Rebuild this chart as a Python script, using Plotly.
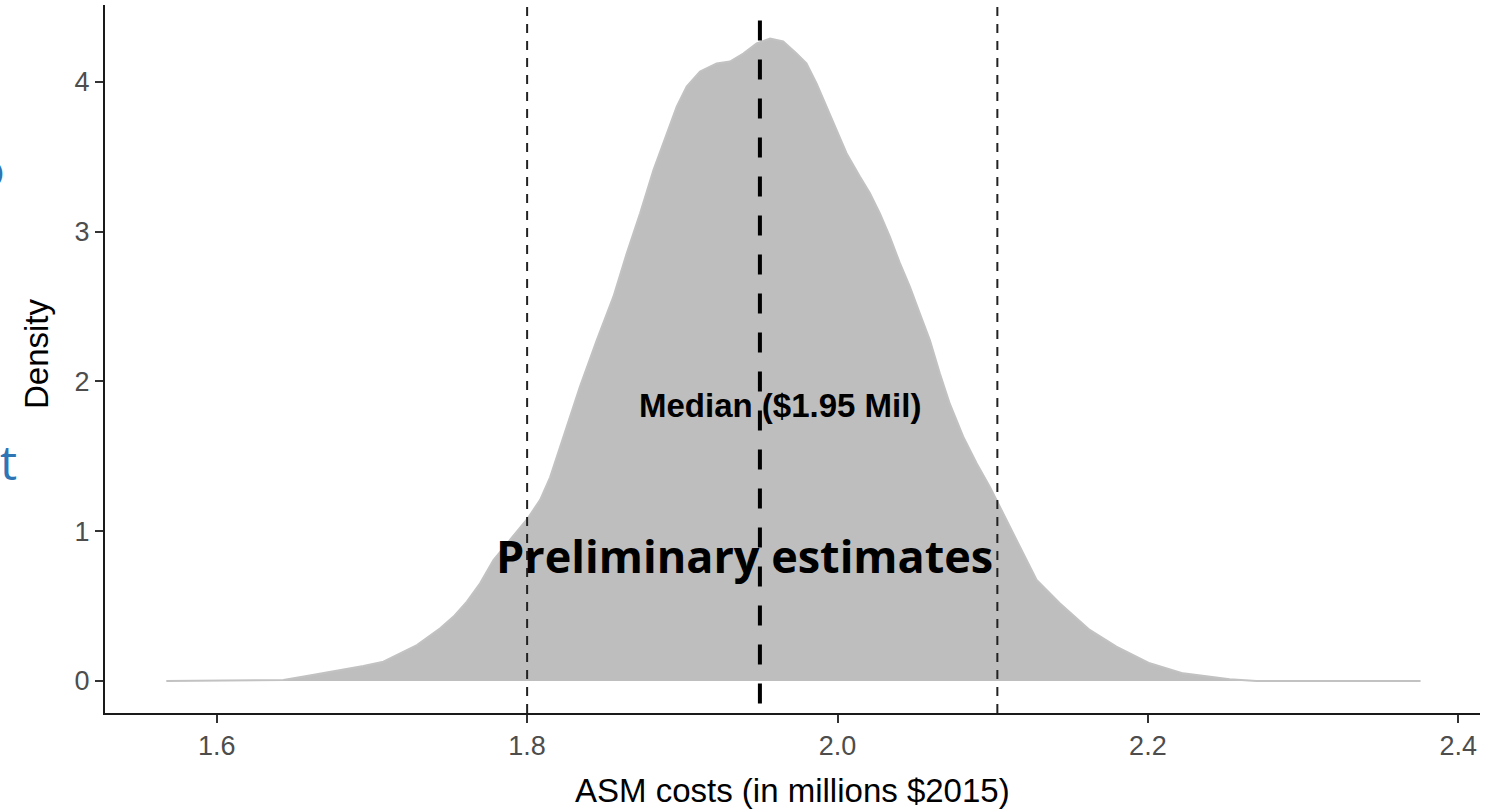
import plotly.graph_objects as go

# ---------------- data ----------------
cost_values = [1.5675, 1.643, 1.658, 1.675, 1.6945, 1.7074, 1.7182, 1.729, 1.744, 1.7526,
               1.7612, 1.7697, 1.7783, 1.789, 1.800, 1.8084, 1.8148, 1.8234, 1.834, 1.8449,
               1.8556, 1.8642, 1.8728, 1.8814, 1.890, 1.8964, 1.9028, 1.9114, 1.9221, 1.9307,
               1.9393, 1.9479, 1.9565, 1.965, 1.9736, 1.980, 1.9865, 1.993, 1.9994, 2.0058,
               2.0144, 2.0209, 2.0273, 2.0337, 2.0402, 2.0466, 2.053, 2.0595, 2.0659, 2.0724,
               2.081, 2.0896, 2.0981, 2.1046, 2.1154, 2.1283, 2.1432, 2.1625, 2.1797, 2.2012,
               2.2227, 2.2527, 2.270, 2.3757]
density_values = [0.0, 0.007, 0.033, 0.062, 0.100, 0.129, 0.185, 0.240, 0.352, 0.430,
                  0.530, 0.652, 0.808, 0.940, 1.080, 1.210, 1.360, 1.630, 1.965, 2.277,
                  2.566, 2.856, 3.123, 3.412, 3.657, 3.835, 3.969, 4.070, 4.124, 4.136,
                  4.190, 4.257, 4.290, 4.270, 4.190, 4.124, 3.990, 3.835, 3.680, 3.524,
                  3.368, 3.257, 3.123, 2.967, 2.790, 2.633, 2.455, 2.277, 2.055, 1.850,
                  1.631, 1.454, 1.298, 1.164, 0.942, 0.674, 0.519, 0.341, 0.229, 0.118,
                  0.051, 0.011, 0.0, 0.0]

interval_bounds = [1.80, 2.103]
median_value = 1.95
median_top = 4.41
median_label = "Median ($1.95 Mil)"
median_label_x = 1.963
median_label_y = 1.84

x_ticks = [1.6, 1.8, 2.0, 2.2, 2.4]
x_tick_labels = ["1.6", "1.8", "2.0", "2.2", "2.4"]
y_ticks = [0, 1, 2, 3, 4]
y_tick_labels = ["0", "1", "2", "3", "4"]
x_range = [1.528, 2.414]
y_range = [-0.2137, 4.514]

x_title = "ASM costs (in millions $2015)"
y_title = "Density"
overlay_text = "Preliminary estimates"

# ---------------- layout geometry ----------------
W, H = 1496, 810
L, R, T, B = 105, 16, 5, 97
PW, PH = W - L - R, H - T - B


def px_x(p):
    return (p - L) / PW


def px_y(p):
    return (H - B - p) / PH


fig = go.Figure()

fig.add_trace(go.Scatter(
    x=cost_values, y=density_values, mode="lines", fill="tozeroy",
    fillcolor="#BEBEBE", line=dict(color="#C2C2C2", width=2),
    hoverinfo="skip", showlegend=False))

for b in interval_bounds:
    fig.add_shape(type="line", xref="x", yref="paper", x0=b, x1=b, y0=0, y1=1,
                  line=dict(color="#222222", width=2, dash="9px,8px"))

fig.add_shape(type="line", xref="x", yref="y", x0=median_value, x1=median_value,
              y0=median_top, y1=y_range[0],
              line=dict(color="black", width=4, dash="20px,19px"))

axis_font = dict(family="Liberation Sans, Arial, sans-serif", size=27, color="#4D4D4D")

fig.update_layout(
    width=W, height=H, autosize=False,
    margin=dict(l=L, r=R, t=T, b=B, pad=0),
    paper_bgcolor="white", plot_bgcolor="white",
    showlegend=False,
    xaxis=dict(range=x_range, tickvals=x_ticks, ticktext=x_tick_labels,
               showgrid=False, zeroline=False, showline=True, linecolor="#1A1A1A",
               linewidth=2, ticks="outside", ticklen=8, tickwidth=2, tickcolor="#333333",
               tickfont=axis_font),
    yaxis=dict(range=y_range, tickvals=y_ticks, ticktext=y_tick_labels,
               showgrid=False, zeroline=False, showline=True, linecolor="#1A1A1A",
               linewidth=2, ticks="outside", ticklen=8, tickwidth=2, tickcolor="#333333",
               tickfont=axis_font),
)

base = dict(showarrow=False, xanchor="center", yanchor="middle")
annotations = [
    dict(base, text="<b>" + median_label + "</b>", x=median_label_x, y=median_label_y,
         xref="x", yref="y",
         font=dict(family="Liberation Sans, Arial, sans-serif", size=33, color="black")),
    dict(base, text="<b>" + overlay_text + "</b>", x=px_x(744), y=px_y(555),
         xref="paper", yref="paper",
         font=dict(family="Open Sans, sans-serif", size=45, color="black")),
    dict(base, text=x_title, x=0.5, y=px_y(790), xref="paper", yref="paper",
         font=dict(family="Liberation Sans, Arial, sans-serif", size=33, color="black")),
    dict(base, text=y_title, x=px_x(36), y=px_y(354), xref="paper", yref="paper",
         textangle=-90,
         font=dict(family="Liberation Sans, Arial, sans-serif", size=33, color="black")),
    dict(base, text="t", x=px_x(-2), y=px_y(461), xref="paper", yref="paper",
         xanchor="left",
         font=dict(family="Open Sans, sans-serif", size=48, color="#2E75B6")),
    dict(base, text="o", x=px_x(-10), y=px_y(168), xref="paper", yref="paper",
         font=dict(family="Open Sans, sans-serif", size=48, color="#2E75B6")),
]
fig.update_layout(annotations=annotations)

fig.write_html("out.html", config={"displayModeBar": False},
               post_script="document.body.style.margin='0';")
